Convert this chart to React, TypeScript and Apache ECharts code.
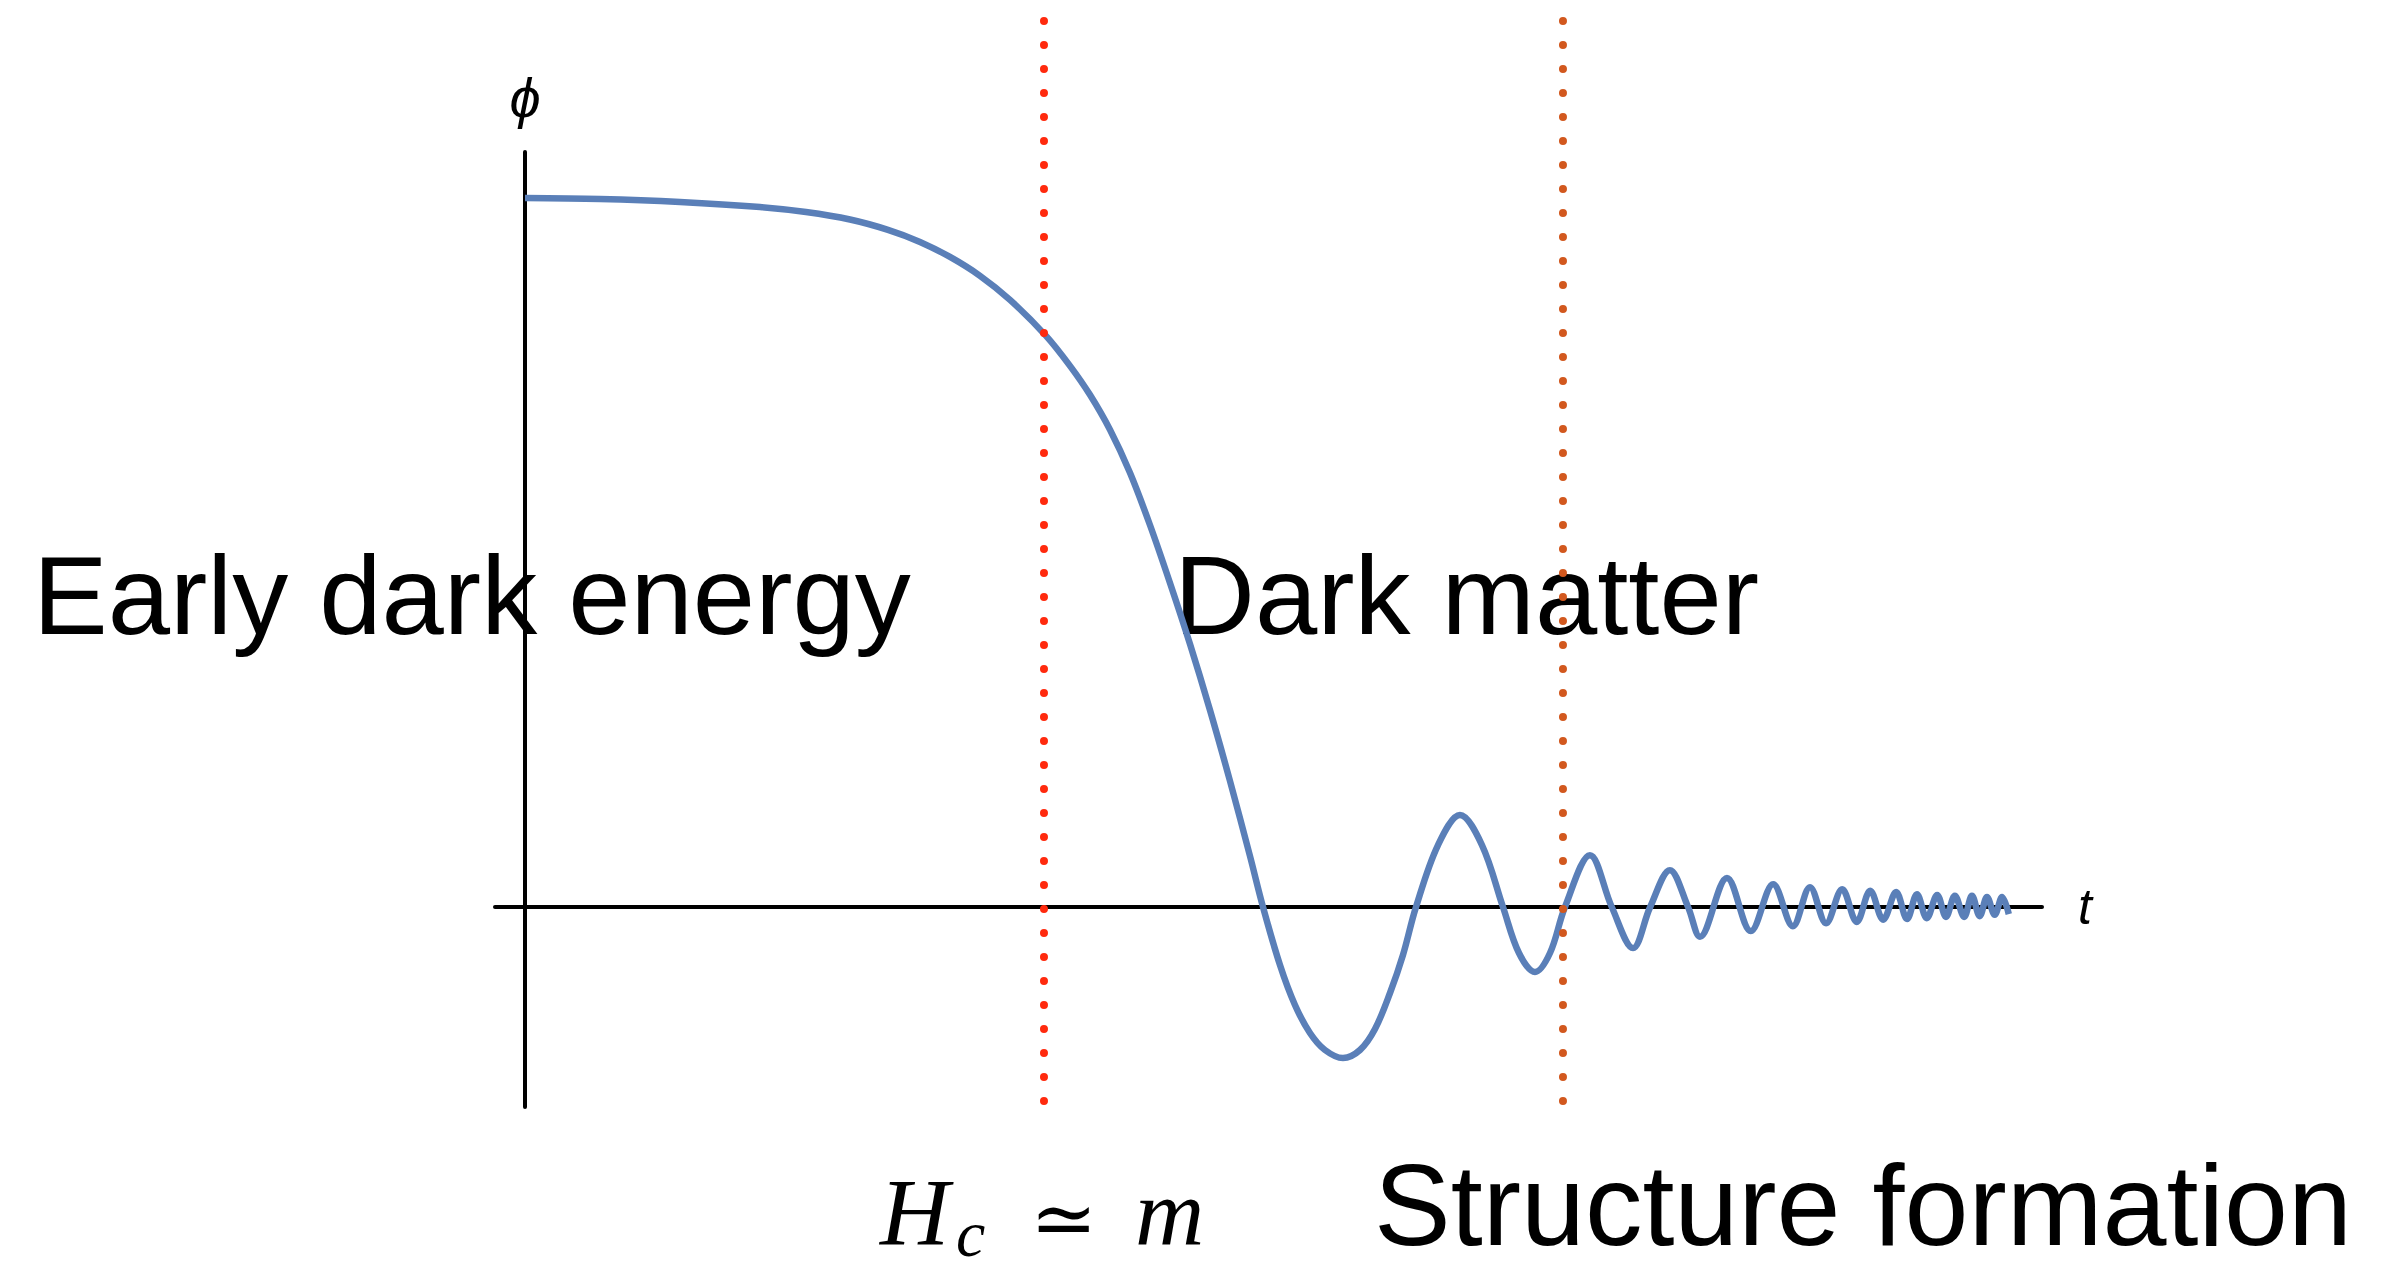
import React, { useEffect, useRef } from 'react';
import * as echarts from 'echarts';

// Field evolution phi(t); t in units where H_c ≃ m at t = 1, structure formation at t = 2
const curveT = [
  0, 0.1445, 0.2987, 0.4528, 0.5414, 0.6262, 0.6994, 0.7611, 0.8189, 0.8767,
  0.9345, 1.0039, 1.0501, 1.0886, 1.1272, 1.1657, 1.2042, 1.2428, 1.2813, 1.3198,
  1.3584, 1.3969, 1.4220, 1.4547, 1.4836, 1.5125, 1.5414, 1.5761, 1.6089, 1.6378,
  1.6667, 1.6917, 1.7168, 1.7592, 1.8015, 1.8439, 1.8844, 1.9152, 1.9461, 1.9750,
  2.0039, 2.052, 2.094, 2.135, 2.168, 2.206, 2.241, 2.264, 2.316, 2.362,
  2.405, 2.443, 2.476, 2.507, 2.538, 2.566, 2.592, 2.617, 2.642, 2.663,
  2.682, 2.701, 2.721, 2.738, 2.755, 2.773, 2.788, 2.803, 2.817, 2.832,
  2.846, 2.859,
];
const curvePhi = [
  1.000, 0.9986, 0.9944, 0.9873, 0.9803, 0.9697, 0.9551, 0.9381, 0.9169, 0.8903,
  0.8564, 0.8056, 0.7633, 0.7224, 0.6731, 0.6124, 0.5388, 0.4570, 0.3709, 0.2779,
  0.1777, 0.0719, 0, -0.0818, -0.1382, -0.1777, -0.2017, -0.2130, -0.2017, -0.1721,
  -0.1213, -0.0677, 0, 0.0874, 0.1298, 0.0874, 0, -0.0649, -0.0917, -0.0649,
  0, 0.073, 0, -0.058, 0, 0.052, 0, -0.042, 0.041, -0.034,
  0.032, -0.027, 0.028, -0.023, 0.025, -0.021, 0.023, -0.018, 0.021, -0.017,
  0.018, -0.016, 0.017, -0.014, 0.016, -0.014, 0.016, -0.013, 0.014, -0.011,
  0.014, -0.010,
];

// Vertical dotted markers
const markerT = [1, 2];
const markerSpan = [1.2497, -0.2790];

// Axis extents
const xRange = [-0.0578, 2.923];
const yRange = [-0.2821, 1.0649];

const axisNames = { x: 't', y: 'ϕ' };
const regionLabels = ['Early dark energy', 'Dark matter', 'Structure formation'];
const mathLabel = ['H', 'c', '≃', 'm'];

export default function App() {
  const ref = useRef<HTMLDivElement>(null);
  useEffect(() => {
    const chart = echarts.init(ref.current!, null, { renderer: 'svg', width: 2387, height: 1270 });
    const curveData = curveT.map((t, i) => [t, curvePhi[i]]);
    const markerColors = ['#ff2a0e', '#d2581e'];
    const sans = '"Liberation Sans", Arial, Helvetica, sans-serif';
    const serif = '"Liberation Serif", "DejaVu Serif", serif';
    const mkText = (text: string, x: number, y: number, font: string) => ({
      type: 'text',
      x,
      y,
      z: -1,
      style: {
        text,
        font,
        fill: '#000',
        align: 'left',
        verticalAlign: 'middle',
        textAlign: 'left',
        textVerticalAlign: 'middle',
      },
    });
    chart.setOption({
      animation: false,
      backgroundColor: '#ffffff',
      grid: { left: 495, right: 345, top: 152, bottom: 163, containLabel: false },
      xAxis: {
        type: 'value',
        min: xRange[0],
        max: xRange[1],
        name: axisNames.x,
        nameLocation: 'end',
        nameGap: 36,
        nameTextStyle: { fontFamily: sans, fontStyle: 'italic', fontSize: 50, color: '#000', verticalAlign: 'middle', align: 'left', padding: [0, 0, 8, 0] },
        axisLine: { show: true, onZero: true, lineStyle: { color: '#000', width: 4 } },
        axisTick: { show: false },
        axisLabel: { show: false },
        splitLine: { show: false },
      },
      yAxis: {
        type: 'value',
        min: yRange[0],
        max: yRange[1],
        name: axisNames.y,
        nameLocation: 'end',
        nameGap: 55,
        nameTextStyle: { fontFamily: sans, fontStyle: 'italic', fontSize: 56, color: '#000', verticalAlign: 'middle', align: 'center' },
        axisLine: { show: true, onZero: true, lineStyle: { color: '#000', width: 4 } },
        axisTick: { show: false },
        axisLabel: { show: false },
        splitLine: { show: false },
      },
      series: [
        {
          type: 'line',
          data: curveData,
          smooth: 0.35,
          symbol: 'none',
          showSymbol: false,
          lineStyle: { color: '#5a7fb8', width: 6.5 },
          z: 2,
        },
        ...markerT.map((t, i) => ({
          type: 'line',
          data: [[t, markerSpan[0]], [t, markerSpan[1]]],
          symbol: 'none',
          showSymbol: false,
          clip: false,
          lineStyle: { color: markerColors[i], width: 8, type: [0.1, 23.9], cap: 'round' },
          z: 3,
        })),
      ],
      graphic: [
        mkText(regionLabels[0], 33, 595, `112px ${sans}`),
        mkText(regionLabels[1], 1174, 595, `112px ${sans}`),
        mkText(regionLabels[2], 1374, 1205, `115px ${sans}`),
        mkText(mathLabel[0], 880, 1212, `italic 96px ${serif}`),
        mkText(mathLabel[1], 956, 1233, `italic 66px ${serif}`),
        mkText(mathLabel[2], 1030, 1219, `80px ${serif}`),
        mkText(mathLabel[3], 1135, 1212, `italic 96px ${serif}`),
      ],
    });
    return () => chart.dispose();
  }, []);
  return (
    <div
      ref={ref}
      style={{ position: 'fixed', left: 0, top: 0, width: 2387, height: 1270, background: '#fff' }}
    />
  );
}
